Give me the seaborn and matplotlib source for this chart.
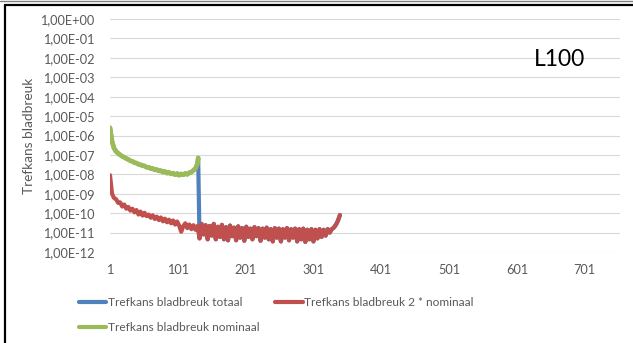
import numpy as np
import pandas as pd
import matplotlib.pyplot as plt
import seaborn as sns
from matplotlib.ticker import FuncFormatter, FixedLocator, NullLocator
from matplotlib.lines import Line2D

sns.set_theme(style="white")
plt.rcParams['font.family'] = ['Lato', 'DejaVu Sans']

# nominale trefkans (groen), elke 3e categorie
green_x = [1, 4, 7, 10, 13, 16, 19, 22, 25, 28, 31, 34, 37, 40, 43, 46, 49, 52, 55, 58,
           61, 64, 67, 70, 73, 76, 79, 82, 85, 88, 91, 94, 97, 100, 103, 106, 109, 112,
           115, 118, 121, 124, 127, 130, 131]
green_y = [2.5e-6, 5e-7, 2.2e-7, 1.5e-7, 1.2e-7, 1.0e-7, 8.5e-8, 7.5e-8, 6.5e-8, 5.8e-8,
           5.0e-8, 4.6e-8, 4.0e-8, 3.8e-8, 3.3e-8, 3.1e-8, 2.8e-8, 2.7e-8, 2.3e-8, 2.3e-8,
           2.0e-8, 2.0e-8, 1.7e-8, 1.75e-8, 1.5e-8, 1.55e-8, 1.3e-8, 1.4e-8, 1.15e-8, 1.25e-8,
           1.05e-8, 1.15e-8, 9.5e-9, 1.1e-8, 9e-9, 1.05e-8, 9.5e-9, 1.1e-8,
           1.0e-8, 1.2e-8, 1.3e-8, 1.6e-8, 2.0e-8, 3.5e-8, 7e-8]

# 2 * nominaal (rood), elke 3e categorie vanaf 1
red_y = [9e-9, 1.0e-9, 6.0e-10, 5.2e-10, 3.4e-10, 3.6e-10, 2.2e-10, 2.8e-10, 1.7e-10, 2.1e-10,
         1.35e-10, 1.7e-10, 1.1e-10, 1.45e-10, 8.5e-11, 1.2e-10, 7.5e-11, 1.05e-10, 7e-11, 8.5e-11,
         5.8e-11, 7.8e-11, 5.0e-11, 6.6e-11, 4.4e-11, 6.0e-11, 3.8e-11, 5.2e-11, 3.4e-11, 4.6e-11,
         3.0e-11, 4.2e-11, 2.6e-11, 3.7e-11, 2.3e-11, 1.1e-11, 2.1e-11, 3.0e-11, 1.7e-11, 2.6e-11,
         1.5e-11, 2.4e-11, 1.4e-11, 2.2e-11,
         5e-12, 2.8e-11, 8e-12, 2.4e-11, 4.5e-12, 2.2e-11, 7e-12, 2.8e-11, 4.5e-12, 2.0e-11,
         6e-12, 2.5e-11, 4.5e-12, 1.9e-11, 4e-12, 2.3e-11, 6.5e-12, 1.8e-11, 4e-12, 2.1e-11,
         5.5e-12, 1.7e-11, 3.8e-12, 2.0e-11, 6e-12, 1.6e-11, 4.5e-12, 1.9e-11, 6.5e-12, 1.7e-11,
         3.8e-12, 1.6e-11, 5.5e-12, 1.8e-11, 4.5e-12, 1.5e-11, 3.5e-12, 1.7e-11, 5.5e-12, 1.6e-11,
         3.5e-12, 1.5e-11, 5.5e-12, 1.7e-11, 4e-12, 1.5e-11, 5.5e-12, 1.6e-11, 3.5e-12, 1.5e-11,
         4.5e-12, 1.6e-11, 3.3e-12, 1.4e-11, 4.5e-12, 1.5e-11, 3.5e-12, 1.4e-11, 5e-12, 1.5e-11,
         6e-12, 1.4e-11, 7e-12, 1.5e-11, 1.0e-11, 1.5e-11, 1.8e-11, 2.5e-11, 4e-11, 8e-11]
red_x = list(range(1, 3 * len(red_y), 3))

# totaal = nominaal tot de overgang, daarna 2 * nominaal
blue_x = green_x + [x for x in red_x if x > green_x[-1]]
blue_y = green_y + [y for x, y in zip(red_x, red_y) if x > green_x[-1]]

x_ticks = [1, 101, 201, 301, 401, 501, 601, 701]
y_ticks = [10.0 ** e for e in range(-12, 1)]

c_blue, c_red, c_green = '#4F81BD', '#C0504D', '#9BBB59'
txt = '#595959'
lw = 3.0

fig = plt.figure(figsize=(6.33, 3.43), dpi=100)
ax = fig.add_axes([110 / 633, 1 - 252 / 343, 510 / 633, 233 / 343])

sns.lineplot(x=blue_x, y=blue_y, ax=ax, color=c_blue, lw=lw, label='Trefkans bladbreuk totaal')
sns.lineplot(x=red_x, y=red_y, ax=ax, color=c_red, lw=lw, label='Trefkans bladbreuk 2 * nominaal')
sns.lineplot(x=green_x, y=green_y, ax=ax, color=c_green, lw=3.4, label='Trefkans bladbreuk nominaal')

ax.set_yscale('log')
ax.set_ylim(1e-12, 1)
ax.set_xlim(1, 753)
ax.yaxis.set_major_locator(FixedLocator(y_ticks))
ax.yaxis.set_minor_locator(NullLocator())
ax.yaxis.set_major_formatter(FuncFormatter(lambda v, p: f"{v:.2E}".replace('.', ',')))
ax.set_xticks(x_ticks)
ax.grid(axis='y', color='#D9D9D9', lw=0.8)
ax.set_axisbelow(True)
for s in ax.spines.values():
    s.set_visible(False)
ax.tick_params(axis='both', length=0, labelsize=9.2, labelcolor=txt)
ax.tick_params(axis='y', pad=11)
ax.tick_params(axis='x', pad=9)
ax.set_ylabel('Trefkans bladbreuk', fontsize=9.8, color=txt)
ax.yaxis.set_label_coords(-75 / 510, 0.5)

fig.text(560 / 633, 1 - 60 / 343, 'L100', fontsize=16.5, color='black', ha='center', va='center')

ax.get_legend().remove()
handles = [Line2D([], [], color=c_blue, lw=lw), Line2D([], [], color=c_green, lw=lw),
           Line2D([], [], color=c_red, lw=lw)]
labels = ['Trefkans bladbreuk totaal', 'Trefkans bladbreuk nominaal',
          'Trefkans bladbreuk 2 * nominaal']
fig.legend(handles, labels, ncol=2, frameon=False, fontsize=8.6, labelcolor=txt,
           loc='upper left', bbox_to_anchor=(68 / 633, 1 - 286 / 343),
           handlelength=2.3, handletextpad=0.15, columnspacing=1.3, labelspacing=1.2)

# kader van de grafiek
fig.add_artist(Line2D([5 / 633, 1], [1 - 5 / 343, 1 - 5 / 343], color='black', lw=1.6))
fig.add_artist(Line2D([5 / 633, 5 / 633], [0, 1 - 5 / 343], color='black', lw=1.6))
fig.add_artist(Line2D([0, 1], [1 - 0.5 / 343, 1 - 0.5 / 343], color='#808080', lw=1))

fig.savefig('out.png', dpi=100)
